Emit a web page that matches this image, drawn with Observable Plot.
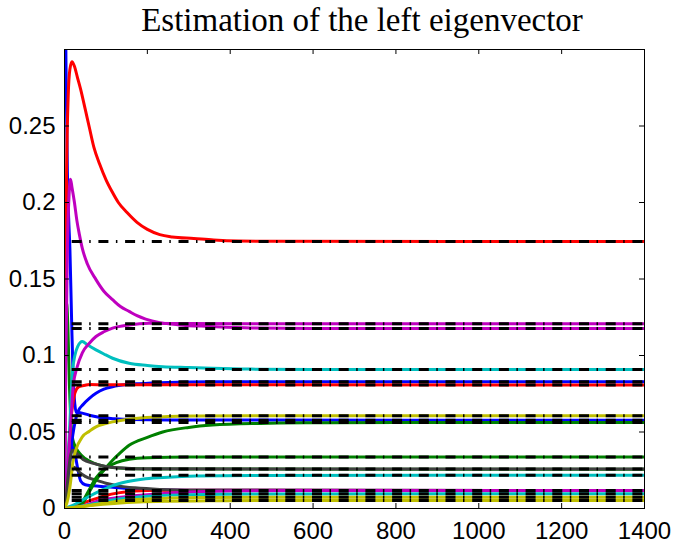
<!DOCTYPE html>
<html>
<head>
<meta charset="utf-8">
<script src="https://cdn.jsdelivr.net/npm/d3@7"></script>
<script src="https://cdn.jsdelivr.net/npm/@observablehq/plot@0.6"></script>
<style>
  html, body { margin: 0; padding: 0; background: white; }
  #title { width: 673px; height: 38px; box-sizing: border-box; padding-left: 80px; padding-right: 29px; padding-top: 2px;
           text-align: center; font-family: "Liberation Serif", "DejaVu Serif", serif; font-size: 33px; line-height: 36px; color: black; }
  #chart svg { display: block; }
</style>
</head>
<body>
<div id="title">Estimation of the left eigenvector</div>
<div id="chart"></div>
<script>
// ---- data (x = iteration, y = estimate) ----
const xTicks = [0, 200, 400, 600, 800, 1000, 1200, 1400];
const yTicks = [0, 0.05, 0.1, 0.15, 0.2, 0.25];
const yTickLabels = ["0", "0.05", "0.1", "0.15", "0.2", "0.25"];

// limit values (black dash-dot reference lines)
const targets = [0.1745, 0.1207, 0.1177, 0.0908, 0.0829, 0.0807, 0.0606, 0.0577, 0.0562,
                 0.0337, 0.0258, 0.0217, 0.0118, 0.0096, 0.0074, 0.0052];

// curves hidden later under other curves
const blueHump = [[0,0],[8,0.015],[13,0.03],[19,0.041],[25,0.036],[32,0.026],[39,0.018],[50,0.0155],[70,0.0148],[100,0.0142],[150,0.013],[200,0.0122],[300,0.0119],[1400,0.0118]];
const redLow = [[0,0],[20,0.001],[40,0.003],[60,0.005],[80,0.0068],[100,0.0085],[130,0.0102],[170,0.0115],[230,0.012],[400,0.0119],[1400,0.0118]];
const greenSpike = [[0,0],[2,0.08],[5,0.135],[8,0.12],[12,0.08],[16,0.055],[20,0.045],[27,0.04],[40,0.035],[60,0.031],[90,0.028],[130,0.0265],[200,0.0258],[1400,0.0257]];
const grayLow = [[0,0],[8,0.01],[15,0.022],[23,0.027],[35,0.024],[50,0.021],[76,0.0185],[100,0.0165],[130,0.0148],[170,0.0135],[230,0.0125],[350,0.0119],[1400,0.0118]];

// visible curves
const blueTall = [[0,0.9],[2,0.35],[4,0.28],[7,0.22],[10,0.19],[13,0.17],[17,0.125],[21,0.084],[25,0.068],[28,0.063],[40,0.0625],[60,0.061],[80,0.0598],[120,0.0587],[160,0.0581],[250,0.0578],[1400,0.0577]];
const blueRise = [[0,0],[8,0.02],[14,0.035],[20,0.048],[26,0.057],[32,0.063],[45,0.068],[60,0.072],[76,0.0753],[95,0.078],[116,0.0796],[150,0.081],[180,0.0816],[250,0.0824],[350,0.0828],[1400,0.0829]];
const greenSlow = [[0,0],[30,0.0005],[45,0.004],[60,0.011],[76,0.0184],[95,0.025],[116,0.0315],[135,0.0365],[156,0.0413],[200,0.0465],[237,0.05],[300,0.053],[357,0.0545],[473,0.0556],[600,0.056],[800,0.0562],[1400,0.0562]];
const greenMid = [[0,0],[25,0.0005],[40,0.003],[55,0.01],[76,0.02],[100,0.0265],[125,0.03],[156,0.0322],[200,0.0332],[300,0.0336],[1400,0.0337]];
const redPeak = [[0,0],[2,0.12],[5,0.22],[9,0.27],[13,0.287],[18,0.292],[24,0.289],[31,0.282],[39,0.274],[50,0.261],[60,0.249],[71,0.236],[85,0.225],[100,0.215],[115,0.207],[130,0.2],[151,0.1934],[175,0.187],[200,0.1824],[230,0.179],[260,0.1775],[312,0.1765],[360,0.1755],[420,0.1748],[500,0.1746],[1400,0.1745]];
const redMid = [[0,0],[6,0.02],[12,0.045],[17,0.062],[21,0.07],[25,0.0755],[35,0.0796],[50,0.0806],[60,0.081],[100,0.0809],[1400,0.0807]];
const cyanPeak = [[0,0],[6,0.02],[12,0.05],[16,0.075],[19,0.0886],[25,0.1],[32,0.106],[43,0.1091],[55,0.107],[76,0.1037],[95,0.101],[116,0.0982],[156,0.0949],[200,0.0935],[237,0.0927],[300,0.0921],[357,0.0916],[450,0.0911],[600,0.0909],[1400,0.0908]];
const cyanLow = [[0,0],[20,0.002],[40,0.005],[60,0.008],[90,0.012],[116,0.015],[150,0.0175],[196,0.0195],[250,0.0205],[317,0.0212],[450,0.0216],[1400,0.0217]];
const magentaPeak = [[0,0],[3,0.09],[7,0.17],[11,0.205],[14.5,0.2152],[18,0.21],[24,0.2],[30,0.188],[36,0.179],[43,0.17],[55,0.16],[76,0.1496],[95,0.142],[116,0.1365],[135,0.132],[156,0.1288],[175,0.126],[196,0.1238],[230,0.1215],[277,0.12],[350,0.119],[450,0.118],[600,0.1177],[1400,0.1177]];
const magentaRise = [[0,0],[5,0.012],[11,0.04],[16,0.06],[21,0.08],[30,0.092],[43,0.1017],[60,0.108],[76,0.1124],[95,0.1155],[116,0.1179],[156,0.12],[204,0.121],[300,0.1209],[450,0.1207],[1400,0.1207]];
const grayMid = [[0,0],[5,0.01],[10,0.025],[15,0.035],[20,0.038],[30,0.036],[45,0.032],[70,0.0295],[100,0.0275],[150,0.0263],[200,0.0259],[1400,0.0258]];
const yellowRise = [[0,0],[8,0.006],[15,0.018],[20,0.03],[27,0.038],[43,0.0468],[60,0.0505],[76,0.0534],[95,0.0552],[116,0.0566],[150,0.0582],[196,0.0595],[250,0.0601],[317,0.0604],[450,0.0606],[1400,0.0606]];
const magentaLow = [[0,0],[20,0.0005],[50,0.002],[70,0.004],[100,0.006],[150,0.0078],[191,0.0088],[250,0.01],[300,0.0108],[400,0.0115],[550,0.0118],[1400,0.0118]];
const cyanBottom = [[0,0],[30,0.0008],[60,0.0025],[100,0.0048],[150,0.0068],[200,0.008],[300,0.009],[450,0.0095],[1400,0.0096]];
const yellowLow = [[0,0],[30,0.0008],[70,0.0025],[120,0.0045],[180,0.006],[250,0.0068],[350,0.0072],[500,0.0074],[1400,0.0074]];
const yellowBottom = [[0,0],[30,0.001],[70,0.0022],[120,0.0033],[180,0.0042],[250,0.0047],[350,0.005],[500,0.0052],[1400,0.0052]];

// MATLAB classic colour order
const colors = {b: "#0000ff", g: "#008000", r: "#ff0000", c: "#00bfbf", m: "#bf00bf", y: "#bfbf00", k: "#404040"};

const series = [
  ["blueHump", blueHump, "b"], ["redLow", redLow, "r"], ["greenSpike", greenSpike, "g"], ["grayLow", grayLow, "k"],
  ["blueTall", blueTall, "b"], ["blueRise", blueRise, "b"], ["greenSlow", greenSlow, "g"], ["greenMid", greenMid, "g"],
  ["redPeak", redPeak, "r"], ["redMid", redMid, "r"], ["cyanPeak", cyanPeak, "c"], ["cyanLow", cyanLow, "c"],
  ["magentaPeak", magentaPeak, "m"], ["magentaRise", magentaRise, "m"], ["grayMid", grayMid, "k"],
  ["yellowRise", yellowRise, "y"], ["magentaLow", magentaLow, "m"], ["cyanBottom", cyanBottom, "c"],
  ["yellowLow", yellowLow, "y"], ["yellowBottom", yellowBottom, "y"]
];

const rows = series.flatMap(([name, pts, c]) => pts.map(([x, y]) => ({name, x, y, color: colors[c]})));

// layout
const W = 673, H = 506, mT = 11, mB = 36, mL = 64, mR = 29, tickLen = 5;
const frameW = W - mL - mR, frameH = H - mT - mB;

const chart = Plot.plot({
  width: W,
  height: H,
  marginTop: mT,
  marginBottom: mB,
  marginLeft: mL,
  marginRight: mR,
  x: {domain: [0, 1400]},
  y: {domain: [0, 0.3]},
  color: {type: "identity"},
  style: {fontFamily: "'Liberation Sans', Arial, Helvetica, sans-serif", fontSize: "24px", color: "black", background: "white"},
  marks: [
    Plot.line(rows, {x: "x", y: "y", z: "name", stroke: "color", strokeWidth: 3, curve: "monotone-x", clip: true}),
    Plot.ruleY(targets, {stroke: "black", strokeWidth: 3, strokeDasharray: "10,7.5,1.5,7.7", strokeDashoffset: 19}),
    Plot.frame({stroke: "black", strokeWidth: 1}),
    // inward ticks on all four sides
    Plot.tickX(xTicks, {x: d => d, stroke: "black", strokeWidth: 1, insetTop: frameH - tickLen}),
    Plot.tickX(xTicks, {x: d => d, stroke: "black", strokeWidth: 1, insetBottom: frameH - tickLen}),
    Plot.tickY(yTicks, {y: d => d, stroke: "black", strokeWidth: 1, insetRight: frameW - tickLen}),
    Plot.tickY(yTicks, {y: d => d, stroke: "black", strokeWidth: 1, insetLeft: frameW - tickLen}),
    // tick labels
    Plot.axisX({anchor: "bottom", label: null, ticks: xTicks, tickSize: 0, tickPadding: 13, tickFormat: d => String(d), fill: "black"}),
    Plot.axisY({anchor: "left", label: null, ticks: yTicks, tickSize: 0, tickPadding: 9, tickFormat: d => yTickLabels[yTicks.indexOf(d)], fill: "black"})
  ]
});
document.getElementById("chart").appendChild(chart);
</script>
</body>
</html>
